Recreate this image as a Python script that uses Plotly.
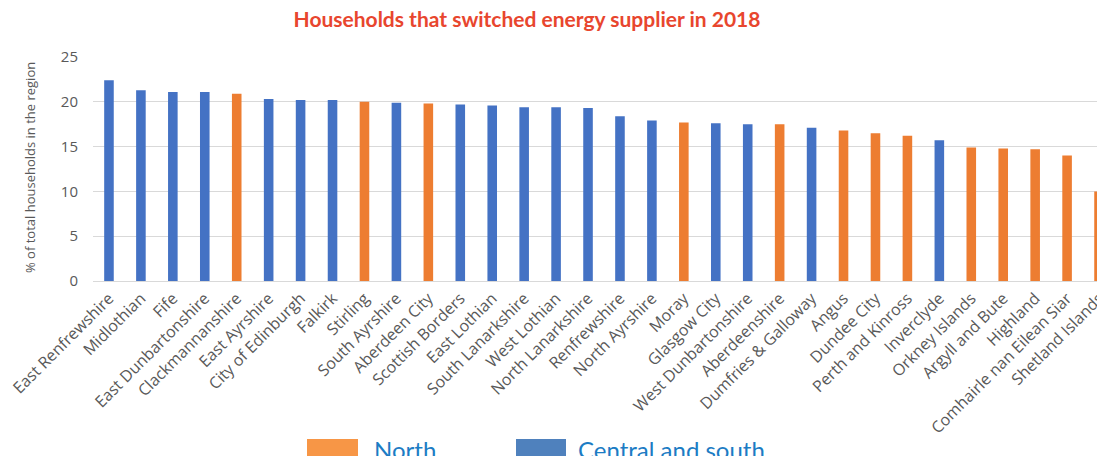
import plotly.graph_objects as go

regions = ["East Renfrewshire", "Midlothian", "Fife", "East Dunbartonshire", "Clackmannanshire",
           "East Ayrshire", "City of Edinburgh", "Falkirk", "Stirling", "South Ayrshire",
           "Aberdeen City", "Scottish Borders", "East Lothian", "South Lanarkshire", "West Lothian",
           "North Lanarkshire", "Renfrewshire", "North Ayrshire", "Moray", "Glasgow City",
           "West Dunbartonshire", "Aberdeenshire", "Dumfries & Galloway", "Angus", "Dundee City",
           "Perth and Kinross", "Inverclyde", "Orkney Islands", "Argyll and Bute", "Highland",
           "Comhairle nan Eilean Siar", "Shetland Islands"]
values = [22.4, 21.3, 21.1, 21.1, 20.9, 20.3, 20.2, 20.2, 20.0, 19.9,
          19.8, 19.7, 19.6, 19.4, 19.4, 19.3, 18.4, 17.9, 17.7, 17.6,
          17.5, 17.5, 17.1, 16.8, 16.5, 16.2, 15.7, 14.9, 14.8, 14.7,
          14.0, 10.0]
group = ["C", "C", "C", "C", "N", "C", "C", "C", "N", "C",
         "N", "C", "C", "C", "C", "C", "C", "C", "N", "C",
         "C", "N", "C", "N", "N", "N", "C", "N", "N", "N",
         "N", "N"]
legend_labels = ["North", "Central and south"]
y_ticks = [0, 5, 10, 15, 20, 25]

# The chart is wider than the 1097 px window; its right end is cropped, as in the reference.
W, H = 1115, 456
L, R, T, B = 93, 1115, 57, 281  # plot area in pixels

def px_x(p):
    return (p - L) / (R - L)

def px_y(p):
    return (B - p) / (B - T)

north_vals = [v if g == "N" else None for v, g in zip(values, group)]
central_vals = [v if g == "C" else None for v, g in zip(values, group)]

fig = go.Figure()
fig.add_trace(go.Bar(x=regions, y=north_vals, name=legend_labels[0],
                     marker=dict(color="#ED7D31", line=dict(width=0)), width=0.3, showlegend=False))
fig.add_trace(go.Bar(x=regions, y=central_vals, name=legend_labels[1],
                     marker=dict(color="#4472C4", line=dict(width=0)), width=0.3, showlegend=False))

# legend drawn as patches + text
patches = [(307, 358, "#F79646"), (516, 566, "#4F81BD")]
text_x = [372, 576]
for (x0, x1, c), lbl, tx in zip(patches, legend_labels, text_x):
    fig.add_shape(type="rect", xref="paper", yref="paper",
                  x0=px_x(x0), x1=px_x(x1), y0=px_y(439), y1=px_y(462),
                  fillcolor=c, line=dict(width=0), layer="above")
    fig.add_annotation(xref="paper", yref="paper", x=px_x(tx), y=px_y(433),
                       text=lbl, showarrow=False, xanchor="left", yanchor="top",
                       font=dict(family="Lato", size=24, color="#1C7CC4"))

fig.add_annotation(xref="paper", yref="paper", x=px_x(30), y=px_y(168),
                   text="% of total households in the region", textangle=-90,
                   showarrow=False, xanchor="center", yanchor="middle",
                   font=dict(family="Open Sans", size=13, color="#595959"))

fig.update_layout(
    width=W, height=H,
    margin=dict(l=L, r=W - R, t=T, b=H - B, pad=0),
    paper_bgcolor="white", plot_bgcolor="white",
    barmode="overlay",
    title=dict(text="<b>Households that switched energy supplier in 2018</b>",
               x=527 / W, xanchor="center", y=1 - 20 / H, yanchor="middle",
               font=dict(family="Lato", size=21, color="#E8462E")),
    xaxis=dict(range=[-0.5, 31.5], tickangle=-45, showgrid=False, showline=False,
               ticks="", ticklabelstandoff=4,
               tickfont=dict(family="Open Sans", size=16, color="#595959"),
               fixedrange=True),
    yaxis=dict(range=[0, 25], tickvals=y_ticks, showgrid=True, gridcolor="#D9D9D9",
               gridwidth=1, zeroline=True, zerolinecolor="#D9D9D9", zerolinewidth=1,
               ticks="", ticklabelstandoff=14,
               tickfont=dict(family="Open Sans", size=15, color="#595959")),
)

fig.write_html("out.html", config={"displayModeBar": False, "staticPlot": True},
               post_script="document.body.style.margin='0';document.body.style.overflow='hidden';")
